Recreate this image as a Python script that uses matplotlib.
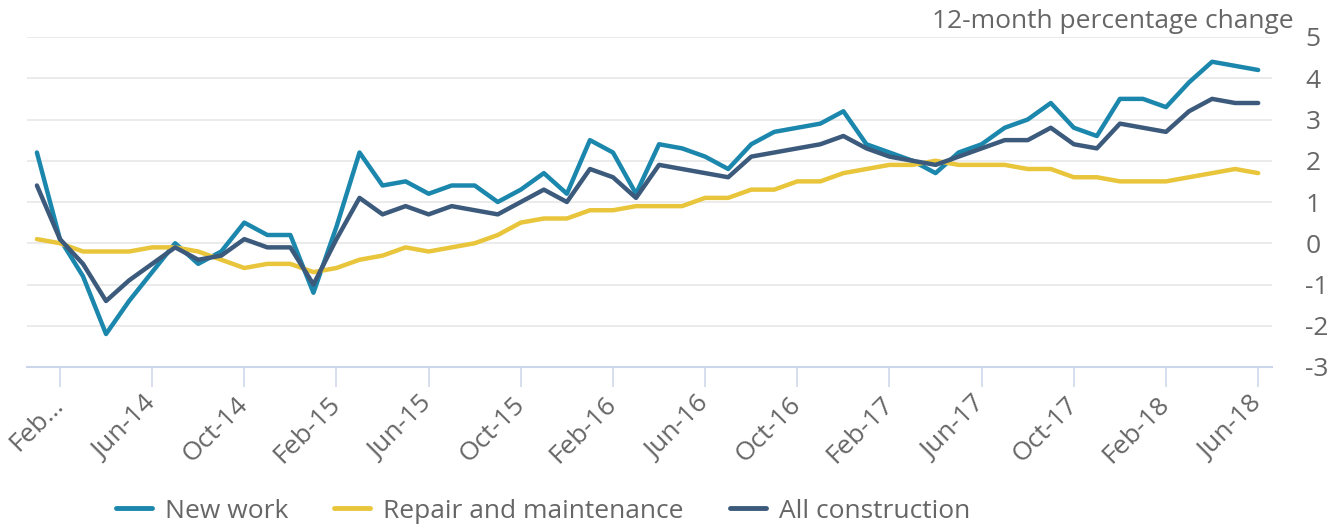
import matplotlib
matplotlib.use("Agg")

import numpy as np
import pandas as pd
import matplotlib.pyplot as plt

# monthly, Jan 2014 .. Jun 2018 (12-month percentage change)
months = pd.date_range("2014-01-01", periods=54, freq="MS")

new_work = [2.2, 0.1, -0.8, -2.2, -1.4, -0.7, 0.0, -0.5, -0.2, 0.5,
            0.2, 0.2, -1.2, 0.4, 2.2, 1.4, 1.5, 1.2, 1.4, 1.4,
            1.0, 1.3, 1.7, 1.2, 2.5, 2.2, 1.2, 2.4, 2.3, 2.1,
            1.8, 2.4, 2.7, 2.8, 2.9, 3.2, 2.4, 2.2, 2.0, 1.7,
            2.2, 2.4, 2.8, 3.0, 3.4, 2.8, 2.6, 3.5, 3.5, 3.3,
            3.9, 4.4, 4.3, 4.2]
repair = [0.1, 0.0, -0.2, -0.2, -0.2, -0.1, -0.1, -0.2, -0.4, -0.6,
          -0.5, -0.5, -0.7, -0.6, -0.4, -0.3, -0.1, -0.2, -0.1, 0.0,
          0.2, 0.5, 0.6, 0.6, 0.8, 0.8, 0.9, 0.9, 0.9, 1.1,
          1.1, 1.3, 1.3, 1.5, 1.5, 1.7, 1.8, 1.9, 1.9, 2.0,
          1.9, 1.9, 1.9, 1.8, 1.8, 1.6, 1.6, 1.5, 1.5, 1.5,
          1.6, 1.7, 1.8, 1.7]
all_construction = [1.4, 0.1, -0.5, -1.4, -0.9, -0.5, -0.1, -0.4, -0.3, 0.1,
                    -0.1, -0.1, -1.0, 0.1, 1.1, 0.7, 0.9, 0.7, 0.9, 0.8,
                    0.7, 1.0, 1.3, 1.0, 1.8, 1.6, 1.1, 1.9, 1.8, 1.7,
                    1.6, 2.1, 2.2, 2.3, 2.4, 2.6, 2.3, 2.1, 2.0, 1.9,
                    2.1, 2.3, 2.5, 2.5, 2.8, 2.4, 2.3, 2.9, 2.8, 2.7,
                    3.2, 3.5, 3.4, 3.4]

tick_labels = ["Feb\u2026", "Jun-14", "Oct-14", "Feb-15", "Jun-15", "Oct-15",
               "Feb-16", "Jun-16", "Oct-16", "Feb-17", "Jun-17", "Oct-17",
               "Feb-18", "Jun-18"]
y_ticks = [-3, -2, -1, 0, 1, 2, 3, 4, 5]

plt.rcParams['font.family'] = ['Open Sans', 'DejaVu Sans']
grey = '#666666'

fig = plt.figure(figsize=(13.41, 5.26), dpi=100)
ax = fig.add_axes([27 / 1341, 1 - 367 / 526, (1272 - 27) / 1341, 330 / 526])

x = np.arange(len(months))
ax.plot(x, new_work, color='#1c87ad', lw=3.2, label='New work', solid_capstyle='round')
ax.plot(x, repair, color='#e8c53b', lw=3.2, label='Repair and maintenance', solid_capstyle='round')
ax.plot(x, all_construction, color='#3c5a7b', lw=3.2, label='All construction', solid_capstyle='round')

ax.set_xlim(-0.43, 53.6)
ax.set_ylim(-3, 5)

# y axis on the right, no ticks, grid lines
ax.yaxis.tick_right()
ax.set_yticks(y_ticks)
ax.set_yticklabels([str(v) for v in y_ticks])
ax.tick_params(axis='y', length=0, pad=24, labelsize=19, labelcolor=grey)
for lab in ax.get_yticklabels():
    lab.set_horizontalalignment('left')
for v in y_ticks[1:]:
    ax.axhline(v, color='#e6e6e6', lw=1.1, zorder=0)

# x axis
tick_pos = x[1::4]
ax.set_xticks(tick_pos)
ax.set_xticklabels(tick_labels, rotation=45, ha='right', va='center',
                   rotation_mode='anchor')
ax.tick_params(axis='x', length=14.5, width=1.1, color='#ccd6eb', pad=10,
               labelsize=19, labelcolor=grey)

for s in ['top', 'left', 'right']:
    ax.spines[s].set_visible(False)
ax.spines['bottom'].set_color('#ccd6eb')
ax.spines['bottom'].set_linewidth(1.5)

fig.text(1294 / 1341, 1 - 22 / 526, '12-month percentage change', ha='right',
         va='center', fontsize=19, color=grey)

leg = fig.legend(loc='center', bbox_to_anchor=(543 / 1341, 1 - 511 / 526), ncol=3,
                 frameon=False, fontsize=19, handlelength=1.35, handletextpad=0.5,
                 columnspacing=1.75, borderaxespad=0)
for t in leg.get_texts():
    t.set_color(grey)
for h in leg.get_lines():
    h.set_linewidth(3.5)

fig.savefig("out.png", dpi=100)
